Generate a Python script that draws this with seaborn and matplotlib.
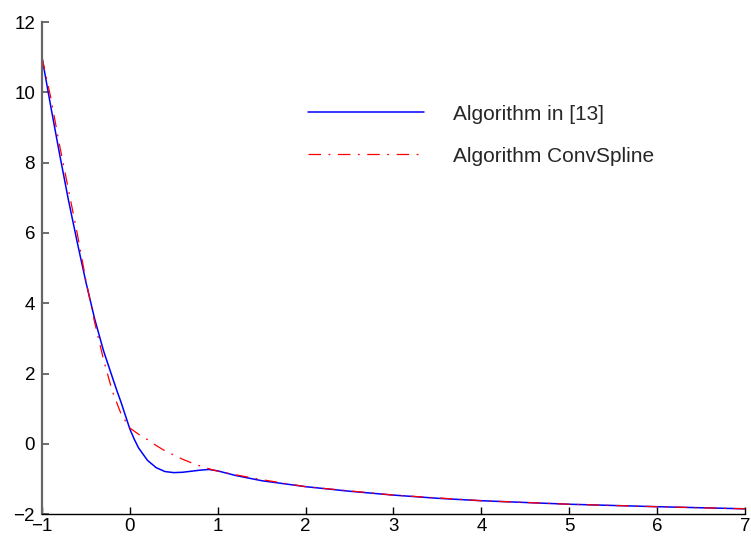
import matplotlib
matplotlib.use("Agg")
import matplotlib.pyplot as plt
import seaborn as sns

# curve
x_ref = [-1, -0.9, -0.8, -0.7, -0.6, -0.5, -0.4, -0.3, -0.2, -0.15, -0.1, -0.05, 0, 0.05, 0.1,
         0.2, 0.3, 0.4, 0.5, 0.6, 0.7, 0.8, 0.9, 1.0, 1.2, 1.5, 2, 2.5, 3, 3.5, 4, 5, 6, 7]
y_ref = [11, 9.6, 8.25, 6.95, 5.75, 4.6, 3.55, 2.65, 1.9, 1.53, 1.18, 0.8, 0.42, 0.13, -0.12,
         -0.47, -0.68, -0.79, -0.82, -0.81, -0.78, -0.75, -0.73, -0.77, -0.9, -1.05, -1.22, -1.35,
         -1.46, -1.55, -1.62, -1.72, -1.79, -1.85]

x_conv = [-1, -0.9, -0.8, -0.7, -0.6, -0.5, -0.4, -0.3, -0.2, -0.1, 0, 0.1, 0.2, 0.3, 0.4, 0.5,
          0.6, 0.7, 0.8, 0.9, 1.0, 1.2, 1.5, 2, 3, 4, 5, 6, 7]
y_conv = [11, 9.85, 8.5, 7.25, 6.0, 4.65, 3.45, 2.4, 1.5, 0.85, 0.45, 0.27, 0.12, -0.05, -0.2,
          -0.32, -0.44, -0.54, -0.63, -0.71, -0.78, -0.88, -1.02, -1.22, -1.46, -1.62, -1.72,
          -1.79, -1.85]

labels = ["Algorithm in [13]", "Algorithm ConvSpline"]

sns.set_style("ticks")
plt.rcParams["font.family"] = ["Liberation Sans", "DejaVu Sans"]

fig = plt.figure(figsize=(7.51, 5.40), dpi=100)
ax = fig.add_axes([0.0559, 0.048, 0.9361, 0.911])

sns.lineplot(x=x_ref, y=y_ref, ax=ax, color="#0000ff", lw=1.1, label=labels[0])
sns.lineplot(x=x_conv, y=y_conv, ax=ax, color="#ff0000", lw=0.9,
             linestyle=(0, (10, 6, 1.5, 6)), label=labels[1])

ax.set_xlim(-1, 7)
ax.set_ylim(-2, 12)
ax.set_xticks(range(-1, 8))
ax.set_yticks(range(-2, 13, 2))
ax.set_xlabel("")
ax.set_ylabel("")

sns.despine(ax=ax)
ax.spines["left"].set_color("#666666")
ax.spines["bottom"].set_color("black")
ax.spines["left"].set_linewidth(1.6)
ax.spines["bottom"].set_linewidth(1.0)
ax.tick_params(axis="both", direction="in", length=5, labelsize=13.5)
ax.tick_params(axis="y", colors="#555555", labelcolor="black", width=1.2, pad=5)
ax.tick_params(axis="x", colors="black", width=1.0, pad=3)

ax.legend(loc="upper left", bbox_to_anchor=(0.378, 0.832), frameon=False,
          fontsize=15, handlelength=5.6, handletextpad=1.35, labelspacing=1.1,
          borderpad=0, borderaxespad=0)

fig.savefig("out.png", dpi=100)
